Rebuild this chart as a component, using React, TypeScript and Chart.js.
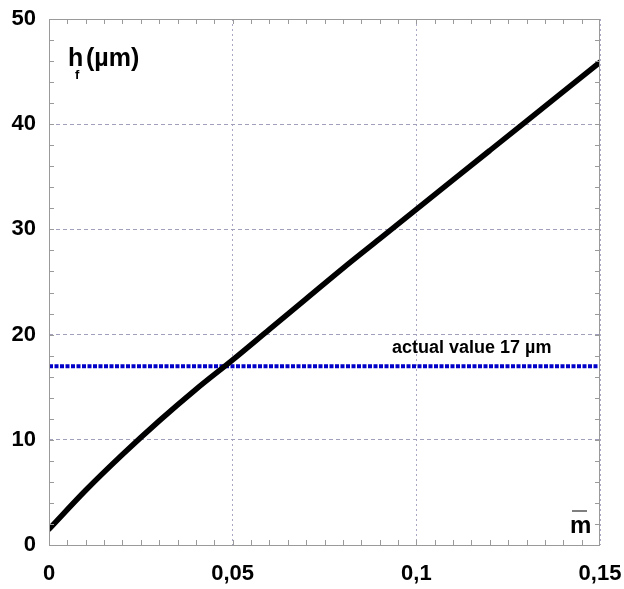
import React, { useEffect, useRef } from "react";
import { Chart, registerables } from "chart.js";

Chart.register(...registerables);

const mValues = [0, 0.01, 0.02, 0.03, 0.04, 0.05, 0.06, 0.07, 0.08, 0.09, 0.1, 0.11, 0.12, 0.13, 0.14, 0.15];
const hfValues = [1.5, 5.2, 8.6, 11.8, 14.8, 17.6, 20.5, 23.4, 26.3, 29.1, 31.9, 34.7, 37.5, 40.3, 43.1, 45.9];
const actualValue = 17;
const actualLabel = "actual value 17 µm";
const xTicks = [0, 0.05, 0.1, 0.15];
const yTicks = [0, 10, 20, 30, 40, 50];

const FONT = "'Liberation Sans', Arial, sans-serif";

const decorPlugin = {
  id: "decor",
  afterDraw(chart: any) {
    const ctx = chart.ctx;
    const a = chart.chartArea;
    const xs = chart.scales.x;
    const ys = chart.scales.y;
    ctx.save();
    // frame
    ctx.strokeStyle = "#9a9a9a";
    ctx.lineWidth = 1;
    ctx.strokeRect(a.left + 0.5, a.top + 0.5, a.right - a.left - 1, a.bottom - a.top);
    // minor ticks
    const tl = 5;
    ctx.beginPath();
    for (let i = 1; i < 30; i++) {
      const px = Math.round(xs.getPixelForValue(i * 0.005)) + 0.5;
      ctx.moveTo(px, a.bottom);
      ctx.lineTo(px, a.bottom - tl);
      ctx.moveTo(px, a.top);
      ctx.lineTo(px, a.top + tl);
    }
    for (let i = 1; i < 25; i++) {
      const py = Math.round(ys.getPixelForValue(i * 2)) + 0.5;
      ctx.moveTo(a.left, py);
      ctx.lineTo(a.left + tl, py);
      ctx.moveTo(a.right, py);
      ctx.lineTo(a.right - tl, py);
    }
    ctx.stroke();

    // y axis title h_f (µm)
    ctx.fillStyle = "#000";
    ctx.textBaseline = "alphabetic";
    ctx.textAlign = "left";
    ctx.font = `bold 25px ${FONT}`;
    ctx.fillText("h", a.left + 19, a.top + 47);
    ctx.font = `bold 13px ${FONT}`;
    ctx.fillText("f", a.left + 26, a.top + 60);
    ctx.font = `bold 25px ${FONT}`;
    ctx.fillText("(µm)", a.left + 37, a.top + 47);

    // actual value label
    ctx.font = `bold 18px ${FONT}`;
    ctx.fillText(actualLabel, a.left + 343, ys.getPixelForValue(actualValue) - 13);

    // x axis title m with overline
    ctx.font = `bold 24px ${FONT}`;
    ctx.fillText("m", a.right - 30, a.bottom - 12);
    ctx.strokeStyle = "#555";
    ctx.lineWidth = 1.5;
    ctx.beginPath();
    ctx.moveTo(a.right - 28, a.bottom - 34);
    ctx.lineTo(a.right - 13, a.bottom - 34);
    ctx.stroke();
    ctx.restore();
  },
};

export default function App() {
  const ref = useRef<HTMLCanvasElement>(null);
  useEffect(() => {
    document.body.style.margin = "0";
    const canvas = ref.current!;
    const chart = new Chart(canvas, {
      type: "line",
      data: {
        datasets: [
          {
            data: [
              { x: 0, y: actualValue },
              { x: 0.15, y: actualValue },
            ],
            borderColor: "#0000c8",
            borderWidth: 4,
            borderDash: [4, 1.5],
            pointRadius: 0,
            order: 2,
          },
          {
            data: mValues.map((m, i) => ({ x: m, y: hfValues[i] })),
            borderColor: "#000",
            borderWidth: 5.5,
            borderCapStyle: "round",
            pointRadius: 0,
            cubicInterpolationMode: "monotone",
            order: 1,
          },
        ],
      },
      options: {
        animation: false,
        responsive: false,
        layout: { padding: { top: 19, right: 24, left: 0, bottom: 0 } },
        plugins: { legend: { display: false }, tooltip: { enabled: false } },
        scales: {
          x: {
            type: "linear",
            min: 0,
            max: 0.15,
            afterFit: (s: any) => {
              s.height = 44;
              s.paddingLeft = 0;
              s.paddingRight = 0;
            },
            afterBuildTicks: (s: any) => {
              s.ticks = xTicks.map((v) => ({ value: v }));
            },
            ticks: {
              font: { family: FONT, size: 22, weight: "bold" },
              color: "#000",
              padding: 16,
              maxRotation: 0,
              callback: (v: any) => String(Number(v)).replace(".", ","),
            },
            grid: { color: "#a8a8c4", lineWidth: 1, drawTicks: false },
            border: { display: false, dash: [2, 3] },
          },
          y: {
            type: "linear",
            min: 0,
            max: 50,
            afterFit: (s: any) => {
              s.width = 49;
              s.paddingTop = 0;
              s.paddingBottom = 0;
            },
            afterBuildTicks: (s: any) => {
              s.ticks = yTicks.map((v) => ({ value: v }));
            },
            ticks: {
              font: { family: FONT, size: 22, weight: "bold" },
              color: "#000",
              padding: 13,
            },
            grid: { color: "#a0a0bc", lineWidth: 1, drawTicks: false },
            border: { display: false, dash: [4, 3] },
          },
        },
      },
      plugins: [decorPlugin],
    } as any);
    return () => chart.destroy();
  }, []);
  return (
    <div style={{ width: 624, height: 589, background: "#fff" }}>
      <canvas ref={ref} width={624} height={589} />
    </div>
  );
}
